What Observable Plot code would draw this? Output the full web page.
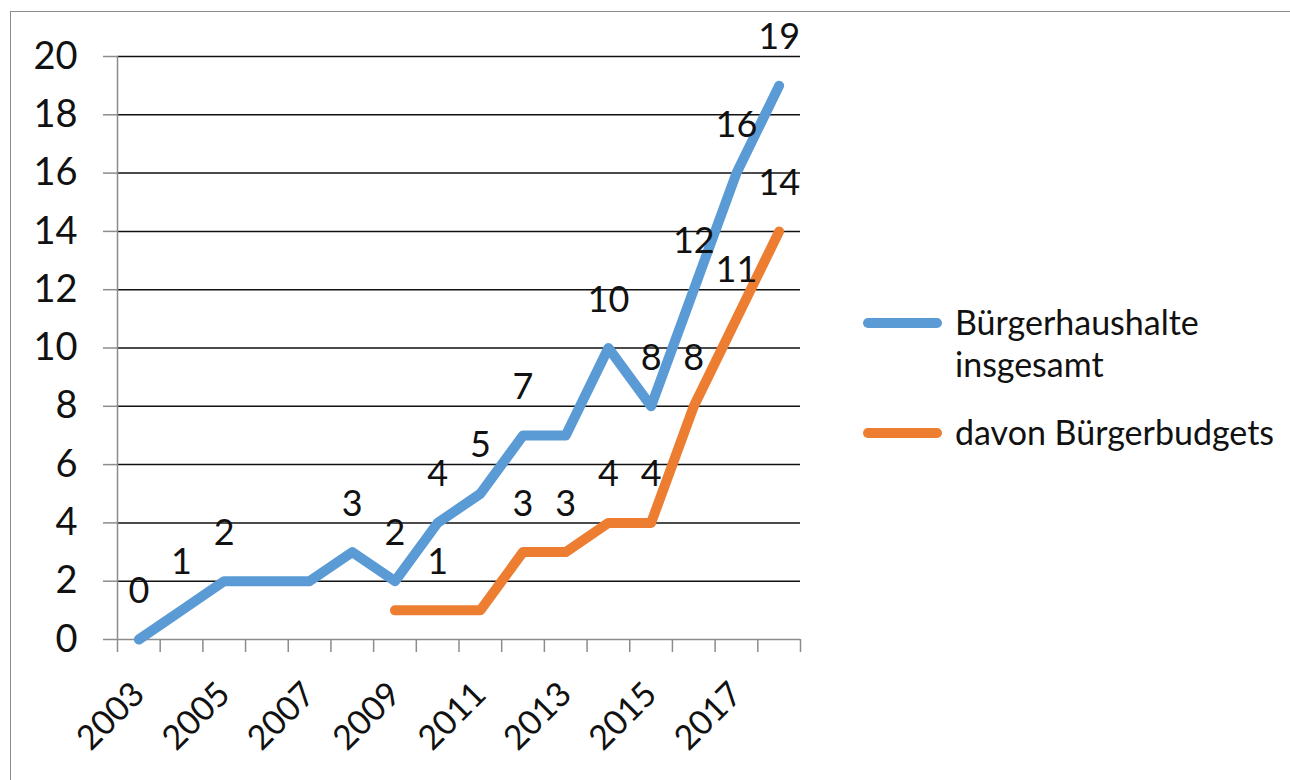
<!DOCTYPE html>
<html>
<head>
<meta charset="utf-8">
<script src="https://cdn.jsdelivr.net/npm/d3@7"></script>
<script src="https://cdn.jsdelivr.net/npm/@observablehq/plot@0.6"></script>
<style>
  html, body { margin: 0; padding: 0; background: #fff; overflow: hidden; }
  #wrap { position: relative; width: 1290px; height: 780px; font-family: Lato, "Open Sans", sans-serif; }
  #frame { position: absolute; left: 10px; top: 11px; width: 1300px; height: 800px; border-left: 1.5px solid #8c8c8c; border-top: 1.5px solid #8c8c8c; box-sizing: border-box; }
  #chart { position: absolute; left: 0; top: 0; }
  .legend-item { position: absolute; left: 863px; display: flex; align-items: flex-start; color: #111; font-size: 34px; line-height: 42px; }
  .swatch { width: 79px; height: 10px; border-radius: 5px; margin-top: 17px; margin-right: 13px; flex: none; }
</style>
</head>
<body>
<div id="wrap">
  <div id="frame"></div>
  <div id="chart"></div>
  <div class="legend-item" style="top:301px"><div class="swatch" style="background:#5B9BD5"></div><div>Bürgerhaushalte<br>insgesamt</div></div>
  <div class="legend-item" style="top:411px"><div class="swatch" style="background:#ED7D31"></div><div>davon Bürgerbudgets</div></div>
</div>
<script>
// ---- data ----
const years = [2003, 2004, 2005, 2006, 2007, 2008, 2009, 2010, 2011, 2012, 2013, 2014, 2015, 2016, 2017, 2018];
const haushalte = [0, 1, 2, 2, 2, 3, 2, 4, 5, 7, 7, 10, 8, 12, 16, 19];
const budgets = [null, null, null, null, null, null, 1, 1, 1, 3, 3, 4, 4, 8, 11, 14];
// data labels shown in the chart (null = label not shown)
const haushalteLabels = ["0", "1", "2", null, null, "3", "2", "4", "5", "7", null, "10", "8", "12", "16", "19"];
const budgetsLabels = [null, null, null, null, null, null, null, "1", null, "3", "3", "4", "4", "8", "11", "14"];
const yTicks = [0, 2, 4, 6, 8, 10, 12, 14, 16, 18, 20];
const xTickLabels = [2003, 2005, 2007, 2009, 2011, 2013, 2015, 2017];

const seriesA = years.map((yr, i) => ({year: yr, value: haushalte[i], label: haushalteLabels[i]}));
const seriesB = years.map((yr, i) => ({year: yr, value: budgets[i], label: budgetsLabels[i]}));
// category boundaries (Excel puts tick marks between categories)
const boundaries = years.map(y => y - 0.5).concat([years[years.length - 1] + 0.5]);

const blue = "#5B9BD5", orange = "#ED7D31", axisGray = "#8c8c8c";

const chart = Plot.plot({
  width: 1290,
  height: 780,
  marginLeft: 117,
  marginRight: 490,
  marginTop: 56,
  marginBottom: 141,
  style: {fontFamily: "Lato, 'Open Sans', sans-serif", background: "transparent", color: "#111"},
  x: {domain: [boundaries[0], boundaries[boundaries.length - 1]]},
  y: {domain: [0, 20]},
  marks: [
    Plot.gridY(yTicks.filter(v => v > 0), {stroke: "#111", strokeOpacity: 1, strokeWidth: 1.5}),
    Plot.ruleY([0], {stroke: axisGray, strokeWidth: 1.5}),
    Plot.ruleX([boundaries[0]], {y1: 0, y2: 20, stroke: axisGray, strokeWidth: 1.5}),
    Plot.axisY(yTicks, {tickSize: 14, tickPadding: 26, stroke: axisGray, strokeWidth: 1.5, fontSize: 38, label: null}),
    Plot.axisX(boundaries, {tickSize: 13, tickFormat: () => "", stroke: axisGray, strokeWidth: 1.5, label: null}),
    Plot.axisX(xTickLabels, {tickSize: 0, tickPadding: 49, tickRotate: -45, textAnchor: "end", lineAnchor: "middle", tickFormat: d => String(d), fontSize: 34, label: null}),
    Plot.line(seriesA, {x: "year", y: "value", stroke: blue, strokeWidth: 10, strokeLinecap: "round", strokeLinejoin: "round"}),
    Plot.line(seriesB, {x: "year", y: "value", stroke: orange, strokeWidth: 10, strokeLinecap: "round", strokeLinejoin: "round"}),
    Plot.text(seriesA.filter(d => d.label !== null), {x: "year", y: "value", text: "label", dy: -48, fontSize: 36, fill: "#111"}),
    Plot.text(seriesB.filter(d => d.label !== null), {x: "year", y: "value", text: "label", dy: -48, fontSize: 36, fill: "#111"})
  ]
});
document.getElementById("chart").appendChild(chart);
</script>
</body>
</html>
